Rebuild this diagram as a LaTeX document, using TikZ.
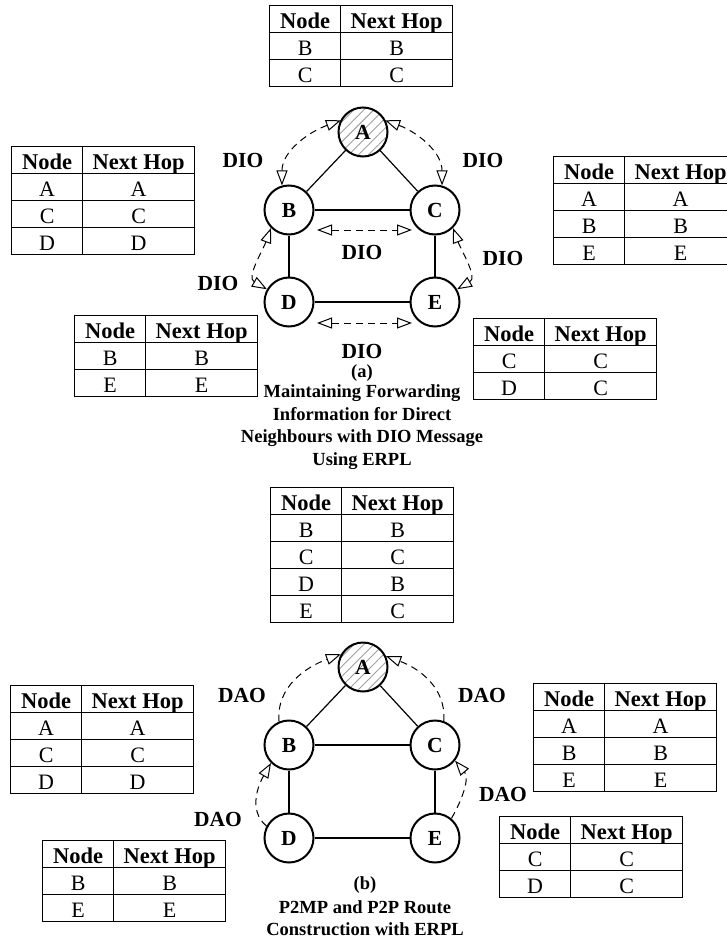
\documentclass[tikz,border=0pt]{standalone}
\usepackage{fontspec}
\setmainfont{Liberation Serif}
\usetikzlibrary{matrix,arrows.meta,patterns.meta}

\newcommand{\hopfont}{\fontsize{22}{24}\selectfont}
\newcommand{\hophead}{\bfseries\fontsize{22.5}{24}\selectfont}
\newcommand{\msgfont}{\bfseries\fontsize{21.5}{24}\selectfont}
\newcommand{\capfont}{\bfseries\fontsize{18.5}{22.5}\selectfont}

\tikzset{
  rnode/.style={circle, draw, line width=2pt, minimum size=49pt, inner sep=0pt, font=\msgfont},
  root/.style={rnode, pattern={Lines[angle=45,distance=7pt,line width=0.9pt]}, pattern color=gray!75},
  link/.style={line width=1.2pt},
  msg/.style={line width=1pt, dash pattern=on 7pt off 5pt},
  lbl/.style={font=\msgfont},
  caption/.style={font=\capfont, align=center},
  hoptable/.style={matrix of nodes, anchor=north west, inner sep=0pt, outer sep=0pt,
    column sep=-1.2pt, row sep=-1.2pt,
    nodes={draw, line width=1.2pt, minimum height=27pt, text height=20pt, text depth=2pt,
      inner sep=0pt, font=\hopfont},
    column 1/.style={nodes={minimum width=71pt}},
    column 2/.style={nodes={minimum width=112pt}},
    row 1/.style={nodes={font=\hophead}}},
}

\begin{document}
\begin{tikzpicture}[x=1pt, y=1pt, >={Triangle[open,length=15pt,width=11pt]}]
\useasboundingbox (0,0) rectangle (727,-939);

% (a) forwarding information with DIO
\matrix[hoptable] (tA) at (269,-5) {Node & Next Hop\\ B & B\\ C & C\\};
\matrix[hoptable] (tB) at (11,-146) {Node & Next Hop\\ A & A\\ C & C\\ D & D\\};
\matrix[hoptable] (tC) at (553,-156) {Node & Next Hop\\ A & A\\ B & B\\ E & E\\};
\matrix[hoptable] (tD) at (74,-315) {Node & Next Hop\\ B & B\\ E & E\\};
\matrix[hoptable] (tE) at (473,-318) {Node & Next Hop\\ C & C\\ D & C\\};

\node[root] (aA) at (363,-132) {A};
\node[rnode] (aB) at (289,-210) {B};
\node[rnode] (aC) at (435,-210) {C};
\node[rnode] (aD) at (289,-302) {D};
\node[rnode] (aE) at (435,-302) {E};

\draw[link] (aA) -- (aB);
\draw[link] (aA) -- (aC);
\draw[link] (aB) -- (aC);
\draw[link] (aB) -- (aD);
\draw[link] (aC) -- (aE);
\draw[link] (aD) -- (aE);

\draw[msg,<->] (aA.152) to[out=200,in=90] (aB.106);
\draw[msg,<->] (aA.28) to[out=-20,in=90] (aC.74);
\draw[msg,<->] ([xshift=28pt,yshift=-20pt]aB.center) -- ([xshift=-23pt,yshift=-20pt]aC.center);
\draw[msg,<->] (aB.225) to[out=250,in=150] (aD.150);
\draw[msg,<->] (aC.-45) to[out=-70,in=30] (aE.30);
\draw[msg,<->] ([xshift=28pt,yshift=-21pt]aD.center) -- ([xshift=-23pt,yshift=-21pt]aE.center);

\node[lbl] (dio1) at (243,-160) {DIO};
\node[lbl] (dio2) at (483,-160) {DIO};
\node[lbl] (dio3) at (362,-252) {DIO};
\node[lbl] (dio4) at (218,-283) {DIO};
\node[lbl] (dio5) at (503,-258) {DIO};
\node[lbl] (dio6) at (362,-351) {DIO};

\node[caption] (capa) at (362,-373) {(a)};
\node[caption] (capA) at (362,-427) {Maintaining Forwarding\\Information for Direct\\Neighbours with DIO Message\\Using ERPL};

% (b) route construction with DAO
\matrix[hoptable] (tF) at (270,-487) {Node & Next Hop\\ B & B\\ C & C\\ D & B\\ E & C\\};
\matrix[hoptable] (tG) at (10,-685) {Node & Next Hop\\ A & A\\ C & C\\ D & D\\};
\matrix[hoptable] (tH) at (533,-683) {Node & Next Hop\\ A & A\\ B & B\\ E & E\\};
\matrix[hoptable] (tI) at (42,-840) {Node & Next Hop\\ B & B\\ E & E\\};
\matrix[hoptable] (tJ) at (499,-816) {Node & Next Hop\\ C & C\\ D & C\\};

\node[root] (bA) at (363,-667) {A};
\node[rnode] (bB) at (289,-745) {B};
\node[rnode] (bC) at (435,-745) {C};
\node[rnode] (bD) at (289,-838) {D};
\node[rnode] (bE) at (435,-838) {E};

\draw[link] (bA) -- (bB);
\draw[link] (bA) -- (bC);
\draw[link] (bB) -- (bC);
\draw[link] (bB) -- (bD);
\draw[link] (bC) -- (bE);
\draw[link] (bD) -- (bE);

\draw[msg,->] (bB.113) to[out=95,in=200] (bA.150);
\draw[msg,->] (bC.70) to[out=85,in=-20] (bA.25);
\draw[msg,->] (bD.152) to[out=140,in=240] (bB.225);
\draw[msg,->] (bE.50) to[out=60,in=-50] (bC.-38);

\node[lbl] (dao1) at (242,-695) {DAO};
\node[lbl] (dao2) at (482,-695) {DAO};
\node[lbl] (dao3) at (218,-819) {DAO};
\node[lbl] (dao4) at (503,-794) {DAO};

\node[caption] (capb) at (365,-885) {(b)};
\node[caption] (capB) at (365,-918) {P2MP and P2P Route\\Construction with ERPL};
\end{tikzpicture}
\end{document}
